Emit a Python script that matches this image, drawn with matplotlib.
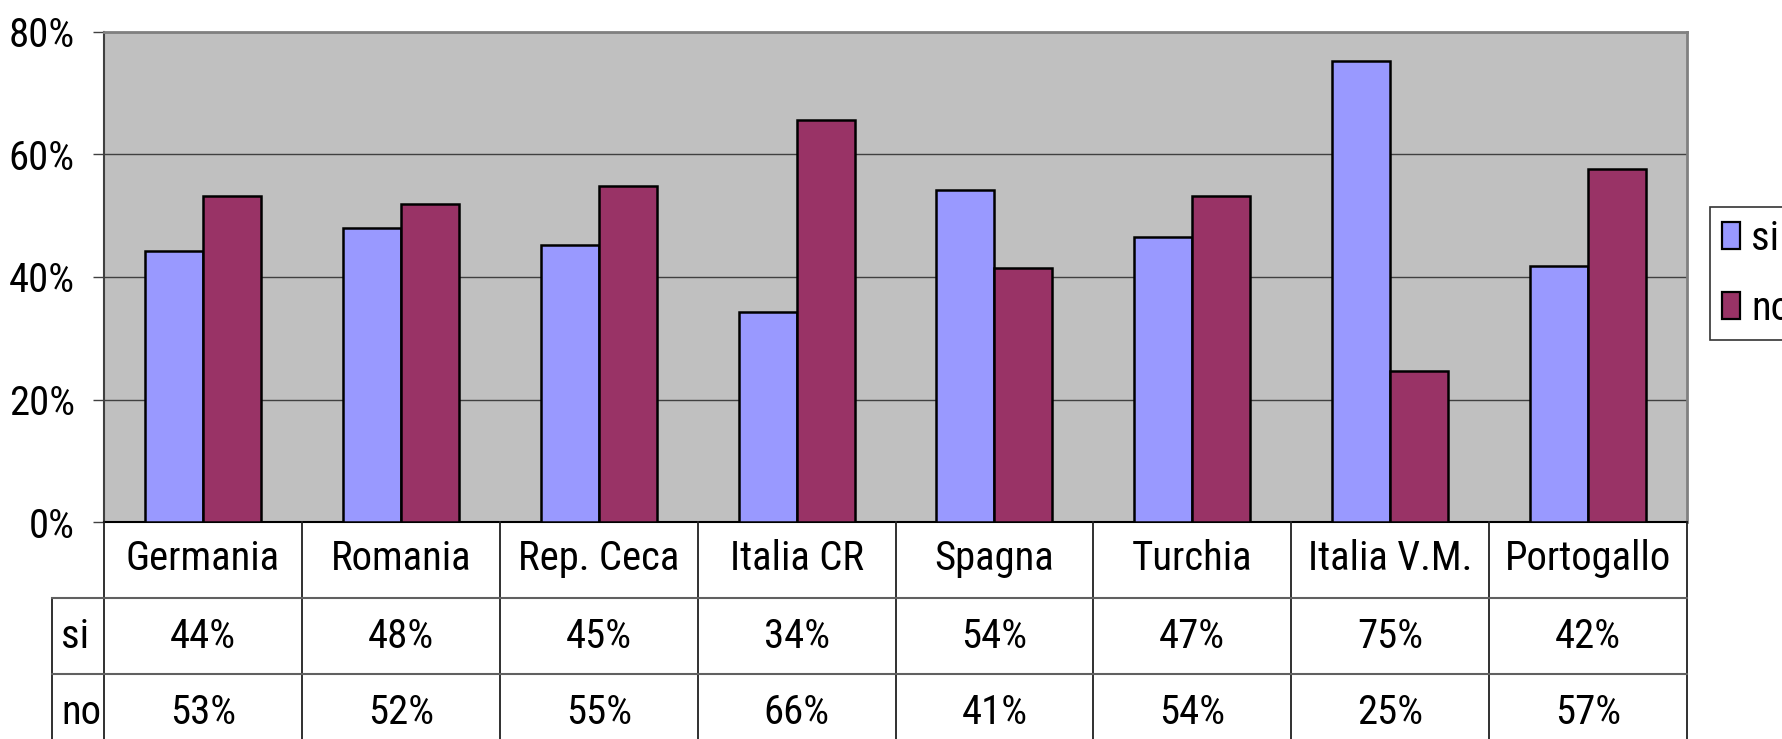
"""
Risposte si / no per paese: istogramma con tabella dati sotto.
"""

import matplotlib.pyplot as plt
from matplotlib import font_manager
from matplotlib.font_manager import FontProperties
from matplotlib.patches import Patch
from matplotlib.textpath import TextPath

# Data (bar heights, table shows rounded values)
countries = [
    "Germania",
    "Romania",
    "Rep. Ceca",
    "Italia CR",
    "Spagna",
    "Turchia",
    "Italia V.M.",
    "Portogallo",
]
si_values = [44.3, 48.0, 45.3, 34.3, 54.2, 46.6, 75.2, 41.8]
no_values = [53.3, 51.9, 54.8, 65.6, 41.4, 53.3, 24.7, 57.6]
si_table = ["44%", "48%", "45%", "34%", "54%", "47%", "75%", "42%"]
no_table = ["53%", "52%", "55%", "66%", "41%", "54%", "25%", "57%"]
series_names = ["si", "no"]
y_ticks = [0, 20, 40, 60, 80]


def pick_font():
    """Return (family, stretch) of the narrowest sans face we can find."""
    entries = font_manager.fontManager.ttflist
    for e in entries:
        if e.name in ("Liberation Sans Narrow", "Arial Narrow"):
            return e.name, e.stretch
    narrow = [
        e for e in entries
        if e.style == "normal"
        and e.weight in (400, "normal", "regular")
        and ("Narrow" in e.name or "Condensed" in e.name
             or str(e.stretch) in ("condensed", "semi-condensed",
                                   "extra-condensed"))
        and "Mono" not in e.name and "Serif" not in e.name
    ]
    for pref in ("Liberation", "Roboto", "Noto Sans", "Open Sans", "DejaVu"):
        for e in narrow:
            if e.name.startswith(pref):
                return e.name, e.stretch
    return "Liberation Sans", "normal"


font_family, font_stretch = pick_font()
plt.rcParams["font.family"] = [font_family, "DejaVu Sans"]
plt.rcParams["font.stretch"] = font_stretch

# Size the text so "Germania" is about 150 px wide (cap height at most 32 px)
fp = FontProperties(family=[font_family, "DejaVu Sans"], stretch=font_stretch)
w10 = TextPath((0, 0), "Germania", size=10, prop=fp).get_extents().width
font_size = min(10 * 150 * 0.72 / w10, 32)
em = font_size / 0.72

W, H = 1782, 739
fig = plt.figure(figsize=(W / 100, H / 100), dpi=100)

# Geometry in pixels
left, right, top, zero = 104, 1687, 32, 522
cat_w = (right - left) / len(countries)

ax = fig.add_axes([left / W, 1 - zero / H, (right - left) / W, (zero - top) / H])
ax.set_facecolor("#c0c0c0")

x = list(range(len(countries)))
bw = 0.293
ax.bar(
    [i - bw / 2 for i in x],
    si_values,
    width=bw,
    color="#9999ff",
    edgecolor="black",
    linewidth=1.8,
    zorder=3,
)
ax.bar(
    [i + bw / 2 for i in x],
    no_values,
    width=bw,
    color="#993366",
    edgecolor="black",
    linewidth=1.8,
    zorder=3,
)

ax.set_xlim(-0.5, len(countries) - 0.5)
ax.set_ylim(0, 80)
ax.set_yticks(y_ticks)
ax.set_yticklabels([f"{v}%" for v in y_ticks])
ax.set_xticks([])
ax.tick_params(
    axis="y", length=8, width=1, color="#404040", pad=13, labelsize=font_size
)
ax.grid(axis="y", color="#404040", linewidth=1, zorder=1)

for side in ["top", "right"]:
    ax.spines[side].set_color("#808080")
    ax.spines[side].set_linewidth(2)
ax.spines["left"].set_color("#404040")
ax.spines["left"].set_linewidth(1.5)
ax.spines["bottom"].set_color("black")
ax.spines["bottom"].set_linewidth(1.5)

# Data table under the chart
lab_w = (left - 52) / cat_w
tab = fig.add_axes([52 / W, 0, (right - 52) / W, (H - zero) / H])
tab.set_xlim(-0.5 - lab_w, len(countries) - 0.5)
tab.set_ylim(H, zero)
tab.axis("off")

row_y = [559, 637, 712]
for k in range(len(countries) + 1):
    tab.plot([k - 0.5, k - 0.5], [zero, H + 5], color="#202020",
             linewidth=1.3, clip_on=False)
tab.plot([-0.5 - lab_w, -0.5 - lab_w], [598, H + 5], color="#202020",
         linewidth=1.3, clip_on=False)
for yy in (598, 674):
    tab.plot([-0.5 - lab_w, len(countries) - 0.5], [yy, yy], color="#606060",
             linewidth=1.5, clip_on=False)

for i, name in enumerate(countries):
    tab.text(i, row_y[0], name, ha="center", va="center", fontsize=font_size)
    tab.text(i, row_y[1], si_table[i],
             ha="center", va="center", fontsize=font_size)
    tab.text(i, row_y[2], no_table[i],
             ha="center", va="center", fontsize=font_size)

for j, name in enumerate(series_names):
    tab.text(-0.5 - lab_w + 9 / cat_w, row_y[j + 1], name,
             ha="left", va="center", fontsize=font_size)

# Legend
handles = [
    Patch(facecolor="#9999ff", edgecolor="black", linewidth=1.6),
    Patch(facecolor="#993366", edgecolor="black", linewidth=1.6),
]
leg = fig.legend(
    handles,
    series_names,
    loc="upper left",
    bbox_to_anchor=(1710 / W, 1 - 207 / H),
    fontsize=font_size,
    frameon=True,
    fancybox=False,
    edgecolor="black",
    handlelength=18 / em,
    handleheight=27 / em,
    handletextpad=11 / em,
    labelspacing=31 / em,
    borderpad=12 / em,
    borderaxespad=0,
)
leg.get_frame().set_linewidth(1.2)

fig.savefig("out.png", dpi=100)
